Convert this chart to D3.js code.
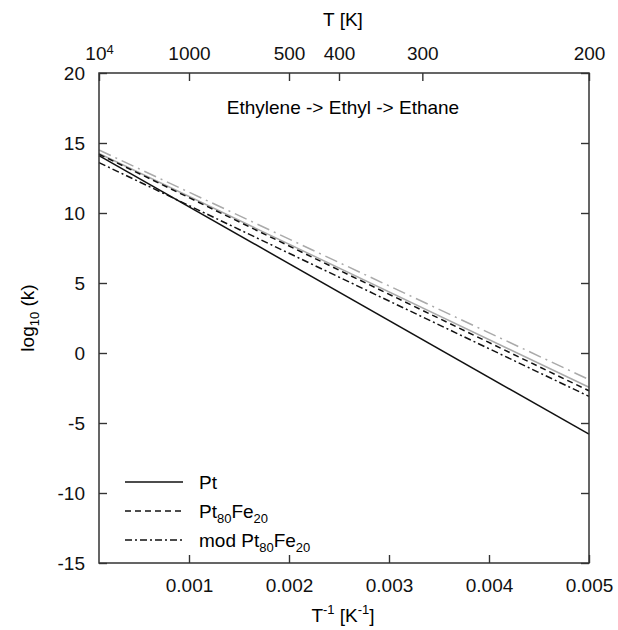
<!DOCTYPE html>
<html lang="en">
<head>
<meta charset="UTF-8">
<title>Ethylene -> Ethyl -> Ethane</title>
<style>
    body { margin: 0; background: #fff; }
    svg { font-family: "Liberation Sans", Arial, sans-serif; }
</style>
</head>
<body>
<script src="https://cdnjs.cloudflare.com/ajax/libs/d3/7.8.2/d3.min.js"></script>
<script>

    // x values: inverse temperature (1/K), ends of each straight Arrhenius line
    const invT = [0.0001, 0.005]

    // log10(k) at both ends of each line
    const ptValues        = [14.1, -5.8]
    const ptFeValues      = [14.2, -2.7]
    const modPtFeValues   = [13.6, -3.1]
    const graySolidValues = [14.25, -2.45]
    const grayDashValues  = [14.5, -1.9]

    const legendLabels = ["Pt", "Pt80Fe20", "mod Pt80Fe20"]

    const bottomTicks = [0.001, 0.002, 0.003, 0.004, 0.005]
    const topTicksT = [10000, 1000, 500, 400, 300, 200]
    const yTicks = [-15, -10, -5, 0, 5, 10, 15, 20]

    const w = 618
    const h = 630
    const mLeft = 99, mRight = 589, mTop = 73, mBottom = 563

    const svg = d3.select("body")
        .append("svg")
            .attr("width", w)
            .attr("height", h)

    const x = d3.scaleLinear()
        .domain([0.0001, 0.005])
        .range([mLeft, mRight])

    const y = d3.scaleLinear()
        .domain([-15, 20])
        .range([mBottom, mTop])

    const fs = 19
    const sub = 13
    const axisColor = "#333"

    // axes, ticks pointing inwards
    const gBottom = svg.append("g")
        .attr("transform", `translate(0,${mBottom})`)
        .call(d3.axisBottom(x).tickValues(bottomTicks).tickSizeInner(-8).tickSizeOuter(0)
            .tickPadding(16).tickFormat(d3.format(".3f")))

    const gTop = svg.append("g")
        .attr("transform", `translate(0,${mTop})`)
        .call(d3.axisTop(x).tickValues(topTicksT.map(t => 1 / t)).tickSizeInner(-8).tickSizeOuter(0)
            .tickPadding(13).tickFormat((d, i) => topTicksT[i]))

    const gLeft = svg.append("g")
        .attr("transform", `translate(${mLeft},0)`)
        .call(d3.axisLeft(y).tickValues(yTicks).tickSizeInner(-8).tickSizeOuter(0).tickPadding(14)
            .tickFormat(d => String(d)))

    const gRight = svg.append("g")
        .attr("transform", `translate(${mRight},0)`)
        .call(d3.axisRight(y).tickValues(yTicks).tickSizeInner(-8).tickSizeOuter(0).tickFormat(""))

    for (const g of [gBottom, gTop, gLeft, gRight]) {
        g.select(".domain").remove()
        g.selectAll("line").attr("stroke", axisColor).attr("stroke-width", 1.4)
        g.selectAll("text").attr("font-size", fs).attr("fill", "#111")
            .attr("font-family", "Liberation Sans, Arial, sans-serif")
    }

    // 10^4 label with superscript
    gTop.selectAll(".tick text")
        .filter((d, i) => topTicksT[i] === 10000)
        .text("10")
        .append("tspan")
            .attr("dy", "-0.45em")
            .attr("font-size", sub)
            .text("4")

    // lines
    const series = [
        { v: grayDashValues,  color: "#aaa", dash: "13,5,2,5", width: 1.5 },
        { v: graySolidValues, color: "#aaa", dash: null,       width: 1.5 },
        { v: ptFeValues,      color: "#111", dash: "6,4",      width: 1.5 },
        { v: modPtFeValues,   color: "#111", dash: "7,3,2,3",  width: 1.5 },
        { v: ptValues,        color: "#111", dash: null,       width: 1.5 }
    ]

    const line = d3.line()
        .x(d => x(d[0]))
        .y(d => y(d[1]))

    svg.selectAll("path.series")
        .data(series)
        .enter()
        .append("path")
            .attr("class", "series")
            .attr("d", s => line(invT.map((t, i) => [t, s.v[i]])))
            .attr("fill", "none")
            .attr("stroke", s => s.color)
            .attr("stroke-width", s => s.width)
            .attr("stroke-dasharray", s => s.dash)

    // frame
    svg.append("rect")
        .attr("x", mLeft)
        .attr("y", mTop)
        .attr("width", mRight - mLeft)
        .attr("height", mBottom - mTop)
        .attr("fill", "none")
        .attr("stroke", axisColor)
        .attr("stroke-width", 1.5)

    // titles
    svg.append("text")
        .attr("x", 343)
        .attr("y", 26)
        .attr("text-anchor", "middle")
        .attr("font-size", fs)
        .text("T [K]")

    svg.append("text")
        .attr("x", 343)
        .attr("y", 114)
        .attr("text-anchor", "middle")
        .attr("font-size", fs)
        .text("Ethylene -> Ethyl -> Ethane")

    const yLab = svg.append("text")
        .attr("transform", `translate(34,${(mTop + mBottom) / 2}) rotate(-90)`)
        .attr("text-anchor", "middle")
        .attr("font-size", fs)
    yLab.append("tspan").text("log")
    yLab.append("tspan").attr("dy", 5).attr("font-size", sub).text("10")
    yLab.append("tspan").attr("dy", -5).text(" (k)")

    const xLab = svg.append("text")
        .attr("x", 343)
        .attr("y", 622)
        .attr("text-anchor", "middle")
        .attr("font-size", fs)
    xLab.append("tspan").text("T")
    xLab.append("tspan").attr("dy", -8).attr("font-size", sub).text("-1")
    xLab.append("tspan").attr("dy", 8).text(" [K")
    xLab.append("tspan").attr("dy", -8).attr("font-size", sub).text("-1")
    xLab.append("tspan").attr("dy", 8).text("]")

    // legend
    const legendStyles = [series[4], series[2], series[3]]
    const legend = svg.append("g")
    legendLabels.forEach((name, i) => {
        const ly = 482 + i * 29
        const s = legendStyles[i]
        legend.append("line")
            .attr("x1", 125).attr("x2", 183)
            .attr("y1", ly).attr("y2", ly)
            .attr("stroke", s.color)
            .attr("stroke-width", s.width)
            .attr("stroke-dasharray", s.dash)
        const t = legend.append("text")
            .attr("x", 199)
            .attr("y", ly + 7)
            .attr("font-size", fs)
        const m = name.match(/^(mod )?Pt80Fe20$/)
        if (m) {
            t.append("tspan").text((m[1] || "") + "Pt")
            t.append("tspan").attr("dy", 5).attr("font-size", sub).text("80")
            t.append("tspan").attr("dy", -5).text("Fe")
            t.append("tspan").attr("dy", 5).attr("font-size", sub).text("20")
        } else {
            t.text(name)
        }
    })

</script>
</body>
</html>
